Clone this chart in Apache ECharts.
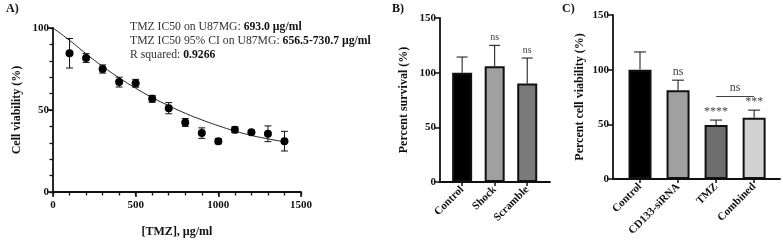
<!DOCTYPE html>
<html lang="en" style="height: 100%">
<head>
  <meta charset="utf-8">
</head>
<body style="height: 100%; margin: 0; background: #fff">
  <div id="container" style="width: 783px; height: 248px"></div>

  <script type="text/javascript" src="https://cdn.jsdelivr.net/npm/echarts@6/dist/echarts.min.js"></script>

  <script type="text/javascript">
// ---- Panel A: dose response ----
const doseX = [100, 200, 300, 400, 500, 600, 700, 800, 900, 1000, 1100, 1200, 1300, 1400];
const viability = [84.6, 81.7, 75, 67, 66.3, 56.8, 51.1, 42.4, 35.9, 31, 37.9, 36.5, 35.5, 31];
const viabilityErr = [9, 2.7, 2.5, 3, 2.4, 2.1, 3.4, 2.4, 3.2, 1.6, 1.8, 1.1, 4.8, 6];
const fitX = [0, 100, 200, 300, 400, 500, 600, 700, 800, 900, 1000, 1100, 1200, 1300, 1400];
const fitY = [100, 92.5, 84.3, 76.6, 69.6, 63.3, 57.6, 52.6, 48, 44, 40.4, 37.2, 34.5, 32.4, 30.6];

// ---- Panel B ----
const groupsB = ['Control', 'Shock', 'Scramble'];
const survivalB = [100, 105.8, 90];
const survivalErrB = [14.3, 19.2, 23.4];
const sigB = ['', 'ns', 'ns'];

// ---- Panel C ----
const groupsC = ['Control', 'CD133-siRNA', 'TMZ', 'Combined'];
const viabC = [100, 81.2, 49.3, 56];
const errC = [16.2, 9.2, 4.6, 7];
const sigC = ['', 'ns', '****', '***'];
const bracketC = [2, 3, 76, 'ns'];

const serif = 'Liberation Serif';
var dom = document.getElementById('container');
var myChart = echarts.init(dom, null, { renderer: 'canvas' });

const axisLine = { show: true, onZero: false, lineStyle: { color: '#111', width: 1.8 } };
const tickLabel = { color: '#111', fontFamily: serif, fontWeight: 'bold', fontSize: 11 };
const nameStyle = { color: '#111', fontFamily: serif, fontWeight: 'bold', fontSize: 12 };
const majorTick = { show: true, length: 5, lineStyle: { color: '#111', width: 1.5 } };

// extra tick-only axis for the small ticks of panel A
function minorAxis(pos, max, step) {
  return {
    gridIndex: 0, type: 'value', position: pos, min: 0, max: max, interval: step,
    axisLine: { show: false, onZero: false },
    axisTick: { show: true, length: 3.5, lineStyle: { color: '#111', width: 1.3 } },
    axisLabel: { show: false }, splitLine: { show: false }
  };
}

function errorBarA(params, api) {
  const x = api.value(0);
  const top = api.coord([x, api.value(2)]);
  const bot = api.coord([x, api.value(1)]);
  const w = 3.5;
  const st = { stroke: '#111', lineWidth: 1 };
  return {
    type: 'group',
    children: [
      { type: 'line', shape: { x1: top[0], y1: top[1], x2: bot[0], y2: bot[1] }, style: st },
      { type: 'line', shape: { x1: top[0] - w, y1: top[1], x2: top[0] + w, y2: top[1] }, style: st },
      { type: 'line', shape: { x1: bot[0] - w, y1: bot[1], x2: bot[0] + w, y2: bot[1] }, style: st }
    ]
  };
}

function makeBarError(sig, capW, fontSize, gap) {
  return function (params, api) {
    const i = api.value(0);
    const base = api.coord([i, api.value(1)]);
    const top = api.coord([i, api.value(2)]);
    const st = { stroke: '#111', lineWidth: 1 };
    const children = [
      { type: 'line', shape: { x1: base[0], y1: base[1], x2: top[0], y2: top[1] }, style: st },
      { type: 'line', shape: { x1: top[0] - capW, y1: top[1], x2: top[0] + capW, y2: top[1] }, style: st }
    ];
    if (sig[params.dataIndex]) {
      children.push({
        type: 'text',
        style: {
          text: sig[params.dataIndex], x: top[0], y: top[1] - gap,
          align: 'center', verticalAlign: 'bottom',
          fontFamily: serif, fontSize: fontSize, fill: '#444'
        }
      });
    }
    return { type: 'group', children: children };
  };
}

// category-like value axis, so the bars can sit with the same padding as the figure
function groupAxis(grid, names, min, max) {
  const idx = names.map((_, i) => i);
  return {
    gridIndex: grid, type: 'value', min: min, max: max,
    axisLine: axisLine, splitLine: { show: false },
    axisTick: { show: true, length: 4, customValues: idx, lineStyle: { color: '#111', width: 1.5 } },
    axisLabel: Object.assign({ rotate: 45, margin: 6, customValues: idx, formatter: v => names[v] }, tickLabel)
  };
}

option = {
  animation: false,
  backgroundColor: '#fff',
  grid: [
    { left: 53, top: 28, width: 248, height: 164 },
    { left: 440, top: 18, width: 110, height: 164 },
    { left: 613, top: 15, width: 167, height: 164 }
  ],
  xAxis: [
    {
      gridIndex: 0, type: 'value', position: 'bottom', min: 0, max: 1500, interval: 500,
      name: '[TMZ], µg/ml', nameLocation: 'middle', nameGap: 34, nameTextStyle: nameStyle,
      axisLine: axisLine, axisTick: majorTick, splitLine: { show: false },
      axisLabel: Object.assign({ margin: 8, formatter: v => String(v) }, tickLabel)
    },
    groupAxis(1, groupsB, -0.68, 2.7),
    groupAxis(2, groupsC, -0.71, 3.68),
    minorAxis('bottom', 1500, 100)
  ],
  yAxis: [
    {
      gridIndex: 0, type: 'value', position: 'left', min: 0, max: 100, interval: 50,
      name: 'Cell viability (%)', nameLocation: 'middle', nameGap: 30, nameTextStyle: nameStyle,
      axisLine: axisLine, axisTick: majorTick, splitLine: { show: false },
      axisLabel: Object.assign({ margin: 4 }, tickLabel)
    },
    {
      gridIndex: 1, type: 'value', min: 0, max: 150, interval: 50,
      name: 'Percent survival (%)', nameLocation: 'middle', nameGap: 30, nameTextStyle: nameStyle,
      axisLine: axisLine, axisTick: majorTick,
      splitLine: { show: false }, axisLabel: Object.assign({ margin: 4 }, tickLabel)
    },
    {
      gridIndex: 2, type: 'value', min: 0, max: 150, interval: 50,
      name: 'Percent cell viability (%)', nameLocation: 'middle', nameGap: 27, nameTextStyle: nameStyle,
      axisLine: axisLine, axisTick: majorTick,
      splitLine: { show: false }, axisLabel: Object.assign({ margin: 4 }, tickLabel)
    },
    minorAxis('left', 100, 10)
  ],
  graphic: [
    { type: 'text', left: 6, top: 3, style: { text: 'A)', fontFamily: serif, fontWeight: 'bold', fontSize: 12, fill: '#111' } },
    { type: 'text', left: 392, top: 3, style: { text: 'B)', fontFamily: serif, fontWeight: 'bold', fontSize: 12, fill: '#111' } },
    { type: 'text', left: 562, top: 3, style: { text: 'C)', fontFamily: serif, fontWeight: 'bold', fontSize: 12, fill: '#111' } },
    {
      type: 'text', left: 130, top: 21,
      style: {
        text: '{n|TMZ IC50 on U87MG: }{b|693.0 µg/ml}\n{n|TMZ IC50 95% CI on U87MG: }{b|656.5-730.7 µg/ml}\n{n|R squared: }{b|0.9266}',
        rich: {
          n: { fontFamily: serif, fontSize: 11.7, fill: '#333', lineHeight: 14 },
          b: { fontFamily: serif, fontSize: 11.7, fontWeight: 'bold', fill: '#111', lineHeight: 14 }
        }
      }
    }
  ],
  series: [
    {
      type: 'line', xAxisIndex: 0, yAxisIndex: 0, smooth: true, showSymbol: false,
      lineStyle: { color: '#222', width: 1 },
      data: fitX.map((x, i) => [x, fitY[i]])
    },
    {
      type: 'custom', xAxisIndex: 0, yAxisIndex: 0, renderItem: errorBarA,
      encode: { x: 0, y: [1, 2] },
      data: doseX.map((x, i) => [x, viability[i] - viabilityErr[i], viability[i] + viabilityErr[i]]), z: 3
    },
    {
      type: 'scatter', xAxisIndex: 0, yAxisIndex: 0, symbolSize: 8,
      itemStyle: { color: '#000', opacity: 1 }, z: 4,
      data: doseX.map((x, i) => [x, viability[i]])
    },
    {
      type: 'bar', xAxisIndex: 1, yAxisIndex: 1, barWidth: 20,
      data: survivalB.map((v, i) => ({
        value: [i, v],
        itemStyle: { color: ['#000', '#a0a0a0', '#7a7a7a'][i], borderColor: '#111', borderWidth: 2 }
      }))
    },
    {
      type: 'custom', xAxisIndex: 1, yAxisIndex: 1, renderItem: makeBarError(sigB, 5.5, 10, 3),
      encode: { x: 0, y: [1, 2] }, z: 3,
      data: survivalB.map((v, i) => [i, v, v + survivalErrB[i]])
    },
    {
      type: 'bar', xAxisIndex: 2, yAxisIndex: 2, barWidth: 23,
      data: viabC.map((v, i) => ({
        value: [i, v],
        itemStyle: { color: ['#000', '#a0a0a0', '#6e6e6e', '#d2d2d2'][i], borderColor: '#111', borderWidth: 2 }
      })),
      markLine: {
        silent: true, symbol: 'none',
        lineStyle: { color: '#444', width: 1, type: 'solid' },
        label: { show: true, position: 'middle', formatter: bracketC[3], fontFamily: serif, fontSize: 12, color: '#444', distance: 2 },
        data: [[{ coord: [bracketC[0], bracketC[2]] }, { coord: [bracketC[1], bracketC[2]] }]]
      }
    },
    {
      type: 'custom', xAxisIndex: 2, yAxisIndex: 2, renderItem: makeBarError(sigC, 6, 12, 2),
      encode: { x: 0, y: [1, 2] }, z: 3,
      data: viabC.map((v, i) => [i, v, v + errC[i]])
    }
  ]
};

if (option && typeof option === 'object') {
  myChart.setOption(option);
}

window.addEventListener('resize', myChart.resize);
  </script>
</body>
</html>
